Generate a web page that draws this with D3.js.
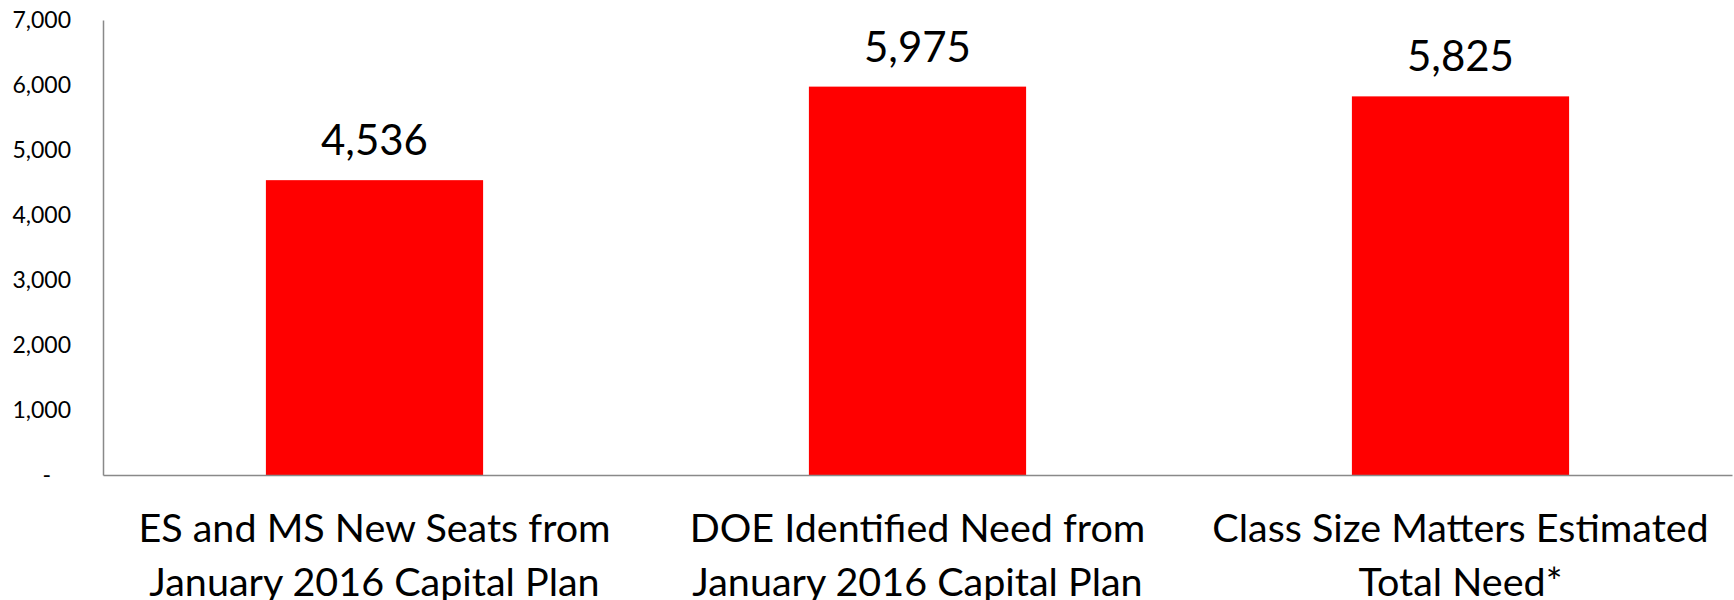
<!DOCTYPE html>
<html>
<head>
<meta charset="utf-8">
<script src="https://cdn.jsdelivr.net/npm/d3@7"></script>
<style>
body { margin: 0; background: #fff; }
svg { display: block; }
</style>
</head>
<body>
<script>
let width = 1734
let height = 600

// chart data
let categories = ["ES and MS New Seats from January 2016 Capital Plan",
                  "DOE Identified Need from January 2016 Capital Plan",
                  "Class Size Matters Estimated Total Need*"]
let labelLines = [["ES and MS New Seats from", "January 2016 Capital Plan"],
                  ["DOE Identified Need from", "January 2016 Capital Plan"],
                  ["Class Size Matters Estimated", "Total Need*"]]
let values = [4536, 5975, 5825]
let yTicks = [0, 1000, 2000, 3000, 4000, 5000, 6000, 7000]

let margin = {left: 103, right: 2, top: 20, bottom: 125}
let font = "Lato, 'Open Sans', sans-serif"

let svg = d3.select("body")
  .append("svg")
  .attr("width", width)
  .attr("height", height)

let x = d3.scaleBand()
  .domain(categories)
  .range([margin.left, width - margin.right])
  .paddingInner(0.6)
  .paddingOuter(0.3)

let y = d3.scaleLinear()
  .domain([0, 7000])
  .range([height - margin.bottom, margin.top])

let fmt = d3.format(",")

// y axis
let yAxis = svg.append("g")
  .attr("transform", "translate(" + margin.left + ",0)")
  .call(d3.axisLeft(y).tickValues(yTicks).tickSize(0).tickPadding(32)
    .tickFormat(d => d === 0 ? "-" : fmt(d)))
yAxis.select(".domain").attr("stroke", "#898989").attr("stroke-width", 1.5)
yAxis.selectAll("text")
  .style("font-family", font)
  .style("font-size", "23px")
  .attr("fill", "#000")
  .attr("dx", d => d === 0 ? -20 : 0)

// bars
svg.selectAll("rect.bar")
  .data(values)
  .enter()
  .append("rect")
  .attr("class", "bar")
  .attr("x", (d, i) => x(categories[i]))
  .attr("y", d => y(d))
  .attr("width", x.bandwidth())
  .attr("height", d => y(0) - y(d))
  .style("fill", "#ff0000")

// value labels
svg.selectAll("text.val")
  .data(values)
  .enter()
  .append("text")
  .attr("class", "val")
  .attr("x", (d, i) => x(categories[i]) + x.bandwidth() / 2)
  .attr("y", d => y(d) - 25)
  .attr("text-anchor", "middle")
  .style("font-family", font)
  .style("font-size", "42px")
  .text(d => fmt(d))

// x axis
let xAxis = svg.append("g")
  .attr("transform", "translate(0," + y(0) + ")")
  .call(d3.axisBottom(x).tickSize(0).tickFormat(""))
xAxis.select(".domain").attr("stroke", "#898989").attr("stroke-width", 1.5)

// category labels, two lines each
categories.forEach((c, i) => {
  let t = svg.append("text")
    .attr("x", x(c) + x.bandwidth() / 2)
    .attr("y", y(0) + 67)
    .attr("text-anchor", "middle")
    .style("font-family", font)
    .style("font-size", "39.5px")
  labelLines[i].forEach((line, j) => {
    t.append("tspan")
      .attr("x", x(c) + x.bandwidth() / 2)
      .attr("dy", j === 0 ? 0 : 54)
      .text(line)
  })
})
</script>
</body>
</html>
